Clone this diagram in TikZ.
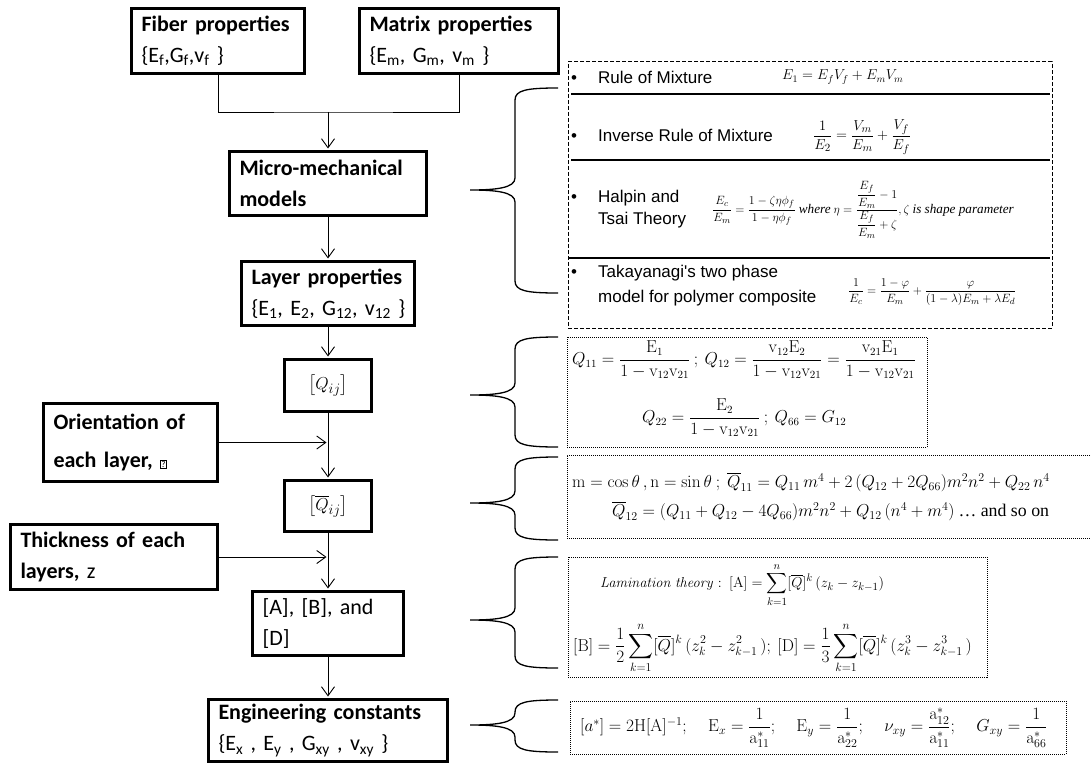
\documentclass[tikz,border=0pt]{standalone}
\usepackage{amsmath}
\usepackage[no-math]{fontspec}
\setmainfont{Carlito}
\newfontfamily\arialfont{Liberation Sans}
\newfontfamily\timesfont{Liberation Serif}
\usetikzlibrary{arrows.meta}

\newcommand{\boxfont}{\fontsize{22}{31}\selectfont}
\newcommand{\itemfont}{\arialfont\fontsize{17}{22}\selectfont}
\newcommand{\qmark}{{\fboxsep=0.8pt\fboxrule=0.5pt\fbox{\fontsize{9}{9}\selectfont ?}}}
% curly brace pointing left: top, tip, bottom
\newcommand{\sidebrace}[3]{%
  \draw[brace] (558,#1) .. controls (527,#1) and (515,{#1+2}) .. (515,{#1+12})
    -- (515,{#2-12}) .. controls (515,{#2-2}) and (496,#2) .. (470,#2)
    .. controls (496,#2) and (515,{#2+2}) .. (515,{#2+12})
    -- (515,{#3-12}) .. controls (515,{#3-2}) and (527,#3) .. (558,#3);}

\begin{document}
\begin{tikzpicture}[x=1pt, y=-1pt,
    >={Straight Barb[length=9pt,width=13pt]},
    propbox/.style={draw, line width=3pt, inner xsep=10pt, inner ysep=0pt, align=left, font=\boxfont},
    link/.style={line width=0.9pt, shorten >=1.5pt},
    brace/.style={line width=1.3pt},
    dashbox/.style={draw, line width=1pt, dash pattern=on 4pt off 2pt, inner sep=0pt},
    dotbox/.style={draw, line width=0.9pt, dash pattern=on 1pt off 1pt, inner sep=0pt},
    sepline/.style={line width=1.6pt},
    item/.style={anchor=west, inner sep=0pt, align=left, font=\itemfont},
    eq/.style={anchor=west, inner sep=0pt}]

    \useasboundingbox (0,0) rectangle (1091,765);

    % Left column
    \node[propbox, text width=153pt, minimum height=65pt] (fiber) at (218,41)
        {\mbox{\textbf{Fiber properties}}\\\mbox{\{E\textsubscript{f},G\textsubscript{f},v\textsubscript{f} \}}};
    \node[propbox, text width=179pt, minimum height=65pt] (matrix) at (459,41)
        {\mbox{\textbf{Matrix properties}}\\\mbox{\{E\textsubscript{m}, G\textsubscript{m}, v\textsubscript{m} \}}};
    \node[propbox, text width=177pt, minimum height=64pt] (micro) at (328,183.5)
        {\mbox{\textbf{Micro-mechanical}}\\\textbf{models}};
    \node[propbox, text width=153pt, minimum height=64pt] (layer) at (328,293.5)
        {\mbox{\textbf{Layer properties}}\\\mbox{\{E\textsubscript{1}, E\textsubscript{2}, G\textsubscript{12}, v\textsubscript{12} \}}};
    \node[propbox, align=center, inner xsep=0pt, minimum width=87pt, minimum height=52pt,
        font=\fontsize{19}{20}\selectfont] (qij) at (328,385.5)
        {$\left[Q_{ij}\right]$};
    \node[propbox, align=center, inner xsep=0pt, minimum width=87pt, minimum height=51pt,
        font=\fontsize{19}{20}\selectfont] (qbar) at (328,506)
        {$\left[\overline{Q}_{ij}\right]$};
    \node[propbox, text width=154pt, minimum height=78pt] (orient) at (130.5,442.5)
        {\mbox{\textbf{Orientation of}}\\[7pt]\mbox{\textbf{each layer,} \qmark}};
    \node[propbox, text width=187pt, minimum height=65pt] (thick) at (114,557)
        {\mbox{\textbf{Thickness of each}}\\\mbox{\textbf{layers,} z}};
    \node[propbox, text width=131pt, minimum height=64pt] (abd) at (328,623.5)
        {\mbox{[A], [B], and}\\{}[D]};
    \node[propbox, text width=219pt, minimum height=62pt] (eng) at (328,730.5)
        {\mbox{\textbf{Engineering constants}}\\\mbox{\{E\textsubscript{x} , E\textsubscript{y} , G\textsubscript{xy} , v\textsubscript{xy} \}}};

    % Flow
    \coordinate (join) at (328,112);
    \draw[link, shorten >=0pt] (fiber) |- (join) -| (matrix);
    \draw[link, ->] (join) -- (micro);
    \draw[link, ->] (micro) -- (layer);
    \draw[link, ->] (layer) -- (qij);
    \draw[link, ->] (qij) -- (qbar);
    \draw[link, ->] (qbar) -- (abd);
    \draw[link, ->] (abd) -- (eng);
    \draw[link, ->] (orient) -- (orient -| qij);
    \draw[link, ->] (thick) -- (thick -| qij);

    % Micro-mechanical models
    \node[dashbox, minimum width=484pt, minimum height=266pt] (mixbox) at (810,195) {};
    \draw[sepline] (571,94) -- (1050,94);
    \draw[sepline] (571,160) -- (1050,160);
    \draw[sepline] (569,258) -- (1050,258);
    \node[item] (rom) at (571,77) {\textbullet\hspace{21pt}Rule of Mixture};
    \node[eq, font=\fontsize{14}{18}\selectfont] (romeq) at (782,77) {$E_1 = E_f V_f + E_m V_m$};
    \node[item] (irom) at (571,135) {\textbullet\hspace{21pt}Inverse Rule of Mixture};
    \node[eq, font=\fontsize{15}{18}\selectfont] (iromeq) at (813,137)
        {$\dfrac{1}{E_2} = \dfrac{V_m}{E_m} + \dfrac{V_f}{E_f}$};
    \node[item] (halpin) at (571,209)
        {\begin{tabular}{@{}l@{\hspace{21pt}}l@{}}\textbullet & Halpin and\\ & Tsai Theory\end{tabular}};
    \node[eq, font=\fontsize{13.2}{16}\selectfont] (halpineq) at (712,210)
        {$\dfrac{E_c}{E_m} = \dfrac{1-\zeta\eta\phi_f}{1-\eta\phi_f}$ {\timesfont\itshape where} $\eta = \dfrac{\dfrac{E_f}{E_m}-1}{\dfrac{E_f}{E_m}+\zeta}, \zeta$ {\timesfont\itshape is shape parameter}};
    \node[item] (taka) at (571,286)
        {\begin{tabular}{@{}l@{\hspace{21pt}}l@{}}\textbullet & Takayanagi's two phase\\[3pt] & model for polymer composite\end{tabular}};
    \node[eq, font=\fontsize{13}{16}\selectfont] (takaeq) at (848,292)
        {$\dfrac{1}{E_c} = \dfrac{1-\varphi}{E_m} + \dfrac{\varphi}{(1-\lambda)E_m + \lambda E_d}$};

    % Stiffness
    \node[dotbox, minimum width=360pt, minimum height=110pt] (qbox) at (747,392) {};
    \node[eq, font=\fontsize{16}{20}\selectfont] (qeqa) at (572,360)
        {$Q_{11} = \dfrac{\mathrm{E}_1}{1-\mathrm{v}_{12}\mathrm{v}_{21}}\ ;\ Q_{12} = \dfrac{\mathrm{v}_{12}\mathrm{E}_2}{1-\mathrm{v}_{12}\mathrm{v}_{21}} = \dfrac{\mathrm{v}_{21}\mathrm{E}_1}{1-\mathrm{v}_{12}\mathrm{v}_{21}}$};
    \node[eq, font=\fontsize{16}{20}\selectfont] (qeqb) at (642,418)
        {$Q_{22} = \dfrac{\mathrm{E}_2}{1-\mathrm{v}_{12}\mathrm{v}_{21}}\ ;\ Q_{66} = G_{12}$};

    % Transformed stiffness
    \node[dotbox, minimum width=531pt, minimum height=83pt] (qbarbox) at (832.5,496.5) {};
    \node[eq, font=\fontsize{17.8}{20}\selectfont] (qbeqa) at (572,482)
        {$\mathrm{m} = \cos\theta\,, \mathrm{n} = \sin\theta\ ;\ \overline{Q}_{11} = Q_{11}\,m^4 + 2\,(Q_{12} + 2Q_{66})m^2n^2 + Q_{22}\,n^4$};
    \node[eq, font=\fontsize{17.8}{20}\selectfont] (qbeqb) at (612,511)
        {$\overline{Q}_{12} = (Q_{11} + Q_{12} - 4Q_{66})m^2n^2 + Q_{12}\,(n^4 + m^4)$ {\timesfont\ldots{} and so on}};

    % Lamination theory
    \node[dotbox, minimum width=419pt, minimum height=120pt] (abdbox) at (777.5,617) {};
    \node[eq, font=\fontsize{15}{18}\selectfont] (abdeqa) at (600,585)
        {$\mathit{Lamination\ theory}:\ [\mathrm{A}] = \displaystyle\sum_{k=1}^{n}[\overline{Q}]^k\,(z_k - z_{k-1})$};
    \node[eq, font=\fontsize{16.5}{18}\selectfont] (abdeqb) at (573,648)
        {$[\mathrm{B}] = \dfrac{1}{2}\displaystyle\sum_{k=1}^{n}[\overline{Q}]^k\,(z_k^2 - z_{k-1}^2\,);\ [\mathrm{D}] = \dfrac{1}{3}\displaystyle\sum_{k=1}^{n}[\overline{Q}]^k\,(z_k^3 - z_{k-1}^3\,)$};

    % Engineering constants
    \node[dotbox, minimum width=496pt, minimum height=53pt] (engbox) at (818,727.5) {};
    \node[eq, font=\fontsize{18.5}{22}\selectfont] (engeq) at (580,728)
        {$[a^*] = 2\mathrm{H}[\mathrm{A}]^{-1};\quad \mathrm{E}_x = \dfrac{1}{\mathrm{a}^*_{11}};\quad \mathrm{E}_y = \dfrac{1}{\mathrm{a}^*_{22}};\quad \nu_{xy} = \dfrac{\mathrm{a}^*_{12}}{\mathrm{a}^*_{11}};\quad G_{xy} = \dfrac{1}{\mathrm{a}^*_{66}}$};

    % Braces
    \sidebrace{88}{190}{293}
    \sidebrace{337}{395}{447}
    \sidebrace{457}{503}{540}
    \sidebrace{557}{620}{668}
    \sidebrace{700}{725}{752}
\end{tikzpicture}
\end{document}
